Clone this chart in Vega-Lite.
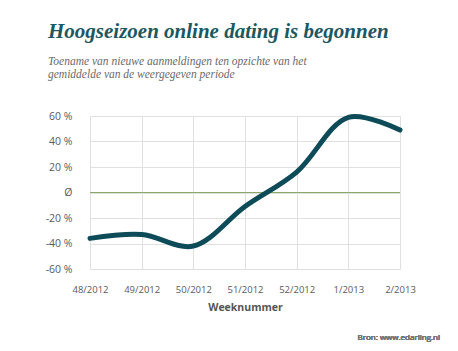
{
  "$schema": "https://vega.github.io/schema/vega-lite/v6.json",
  "autosize": "none",
  "width": 310,
  "height": 153,
  "padding": {"left": 90, "top": 116, "right": 58, "bottom": 82},
  "background": "white",
  "title": {
    "text": "Hoogseizoen online dating is begonnen",
    "subtitle": ["Toename van nieuwe aanmeldingen ten opzichte van het", "gemiddelde van de weergegeven periode"],
    "anchor": "start",
    "frame": "group",
    "dx": -42,
    "offset": 26,
    "font": "Liberation Serif",
    "fontSize": 21,
    "fontWeight": "bold",
    "fontStyle": "italic",
    "color": "#1b5862",
    "subtitleFont": "Liberation Serif",
    "subtitleFontSize": 11.5,
    "subtitleFontStyle": "italic",
    "subtitleColor": "#6a6a6a",
    "subtitlePadding": 14,
    "subtitleLineHeight": 13
  },
  "config": {
    "view": {"stroke": null},
    "axis": {
      "labelFont": "Open Sans",
      "labelFontSize": 9.5,
      "labelColor": "#5a5a5a",
      "gridColor": "#e0e0e0",
      "gridWidth": 1,
      "domain": false,
      "ticks": false,
      "labelOverlap": false
    },
    "axisY": {"labelFontSize": 10.5}
  },
  "data": {
    "values": [
      {"week": "48/2012", "value": -36},
      {"week": "49/2012", "value": -33},
      {"week": "50/2012", "value": -42},
      {"week": "51/2012", "value": -11},
      {"week": "52/2012", "value": 16},
      {"week": "1/2013", "value": 59},
      {"week": "2/2013", "value": 49}
    ]
  },
  "layer": [
    {
      "mark": {"type": "rule", "color": "#8aa86c", "strokeWidth": 1.2},
      "encoding": {
        "y": {
          "datum": 0,
          "type": "quantitative",
          "scale": {"domain": [-60, 60]},
          "axis": {
            "title": null,
            "values": [-60, -40, -20, 0, 20, 40, 60],
            "labelExpr": "datum.value === 0 ? 'Ø' : datum.value + ' %'",
            "labelPadding": 18,
            "grid": true
          }
        }
      }
    },
    {
      "mark": {"type": "line", "interpolate": "catmull-rom", "color": "#0c4b57", "strokeWidth": 5, "strokeCap": "round"},
      "encoding": {
        "x": {
          "field": "week",
          "type": "ordinal",
          "sort": null,
          "scale": {"type": "point", "padding": 0},
          "axis": {
            "title": "Weeknummer",
            "titleFont": "Open Sans",
            "titleFontSize": 10.5,
            "titleFontWeight": "bold",
            "titleColor": "#555555",
            "titlePadding": 9,
            "labelAngle": 0,
            "labelPadding": 15,
            "grid": true
          }
        },
        "y": {
          "field": "value",
          "type": "quantitative",
          "scale": {"domain": [-60, 60]},
          "axis": {
            "title": null,
            "values": [-60, -40, -20, 0, 20, 40, 60],
            "labelExpr": "datum.value === 0 ? 'Ø' : datum.value + ' %'",
            "labelPadding": 18,
            "grid": true
          }
        }
      }
    },
    {
      "mark": {"type": "text", "text": "Bron: www.edarling.nl", "align": "right", "baseline": "middle", "font": "Open Sans", "fontSize": 8, "fontWeight": "normal", "color": "#777777", "dx": 40, "dy": 69},
      "encoding": {
        "x": {
          "datum": "2/2013",
          "type": "ordinal",
          "axis": {
            "title": "Weeknummer",
            "titleFont": "Open Sans",
            "titleFontSize": 10.5,
            "titleFontWeight": "bold",
            "titleColor": "#555555",
            "titlePadding": 9,
            "labelAngle": 0,
            "labelPadding": 15,
            "grid": true
          }
        },
        "y": {
          "datum": -60,
          "type": "quantitative",
          "axis": {
            "title": null,
            "values": [-60, -40, -20, 0, 20, 40, 60],
            "labelExpr": "datum.value === 0 ? 'Ø' : datum.value + ' %'",
            "labelPadding": 18,
            "grid": true
          }
        }
      }
    }
  ]
}
